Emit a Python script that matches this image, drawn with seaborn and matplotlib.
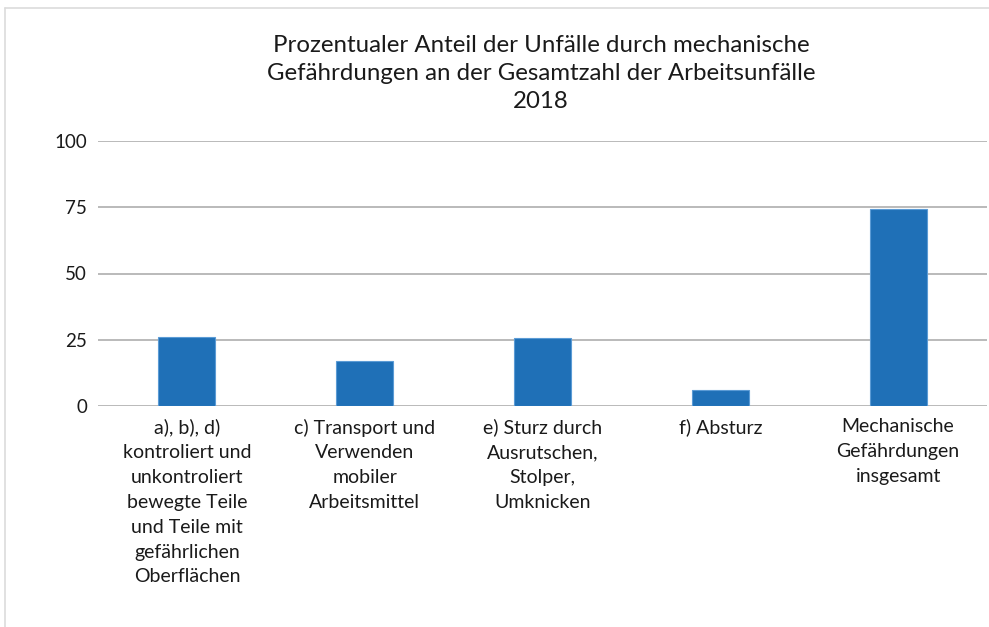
import matplotlib.pyplot as plt
import seaborn as sns
import pandas as pd
from matplotlib.lines import Line2D

categories = [
    "a), b), d)\nkontroliert und\nunkontroliert\nbewegte Teile\nund Teile mit\ngefährlichen\nOberflächen",
    "c) Transport und\nVerwenden\nmobiler\nArbeitsmittel",
    "e) Sturz durch\nAusrutschen,\nStolper,\nUmknicken",
    "f) Absturz",
    "Mechanische\nGefährdungen\ninsgesamt",
]
anteil = [26.2, 17.1, 25.5, 6.0, 74.2]
yticks = [0, 25, 50, 75, 100]
title = ("Prozentualer Anteil der Unfälle durch mechanische\n"
         "Gefährdungen an der Gesamtzahl der Arbeitsunfälle\n2018")

if __name__ == "__main__":
    sns.set_style("white")
    plt.rcParams['font.family'] = ['Lato', 'DejaVu Sans']

    df = pd.DataFrame({"Kategorie": categories, "Anteil": anteil})

    fig = plt.figure(figsize=(9.89, 6.27), dpi=100)
    ax = fig.add_axes([98 / 989, 1 - 406 / 627, (987 - 98) / 989, 265 / 627])

    sns.barplot(data=df, x="Kategorie", y="Anteil", color="#1f70b7",
                width=0.32, saturation=1, edgecolor="#5b9bd5", linewidth=0.8,
                ax=ax, zorder=3)

    ax.set_ylim(0, 100)
    ax.set_xlim(-0.5, 4.5)
    ax.set_yticks(yticks)
    ax.yaxis.grid(True, color="#b4b4b4", linewidth=1.3, zorder=0)
    ax.set_axisbelow(True)
    ax.set_xlabel("")
    ax.set_ylabel("")
    for s in ax.spines.values():
        s.set_visible(False)
    ax.tick_params(axis="y", labelsize=13.5, length=0, pad=8, colors="#1a1a1a")
    ax.tick_params(axis="x", labelsize=14, length=0, pad=9, colors="#1a1a1a")
    for lbl in ax.get_xticklabels():
        lbl.set_linespacing(1.56)
        lbl.set_verticalalignment("top")

    fig.text(541 / 989, 1 - 35 / 627, title, ha="center", va="top",
             fontsize=17.3, linespacing=1.4, color="#1a1a1a")

    # light frame of the card at top and left
    fig.add_artist(Line2D([5 / 989, 1], [1 - 8 / 627, 1 - 8 / 627],
                          color="#dcdcdc", linewidth=1.2, transform=fig.transFigure))
    fig.add_artist(Line2D([5 / 989, 5 / 989], [0, 1 - 8 / 627],
                          color="#dcdcdc", linewidth=1.2, transform=fig.transFigure))

    plt.savefig("out.png", dpi=100)
